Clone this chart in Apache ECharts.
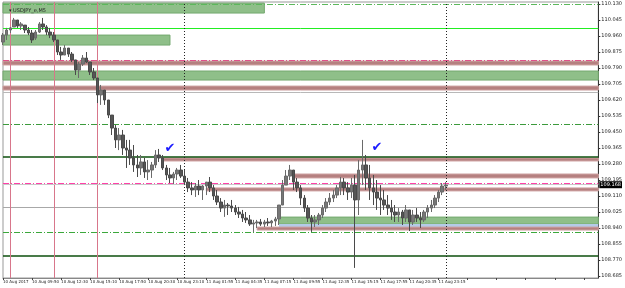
<!DOCTYPE html>
<html><head><meta charset="utf-8">
<script src="https://cdn.jsdelivr.net/npm/echarts@6/dist/echarts.min.js"></script>
<style>html,body{margin:0;padding:0;background:#fff}#c{width:625px;height:288px}</style>
</head><body><div id="c"></div>
<script>
const tickLabels = ['10 Aug 2017','10 Aug 09:50','10 Aug 12:30','10 Aug 15:10','10 Aug 17:50','10 Aug 20:30','10 Aug 23:10','11 Aug 01:55','11 Aug 04:35','11 Aug 07:15','11 Aug 09:55','11 Aug 12:35','11 Aug 15:15','11 Aug 17:55','11 Aug 20:35','11 Aug 23:15'];
const yTicks = [108.685,108.770,108.855,108.940,109.025,109.110,109.195,109.280,109.365,109.450,109.535,109.620,109.705,109.790,109.875,109.960,110.045,110.130];
const slotCount = 165;
const opens = [109.928,109.965,109.992,110.008,110.045,110.013,110.018,109.992,109.976,109.949,109.981,110.024,110.008,109.981,109.965,109.939,109.875,109.859,109.896,109.864,109.833,109.779,109.811,109.843,109.822,109.769,109.737,109.647,109.673,109.620,109.540,109.471,109.408,109.434,109.365,109.354,109.312,109.275,109.259,109.291,109.238,109.248,109.275,109.328,109.312,109.259,109.222,109.206,109.227,109.248,109.216,109.184,109.153,109.142,109.163,109.142,109.163,109.184,109.153,109.110,109.078,109.046,109.062,109.057,109.046,109.025,109.014,108.993,108.983,108.961,108.967,108.972,108.961,108.972,108.967,108.977,108.988,109.062,109.168,109.216,109.248,109.184,109.153,109.099,109.046,108.993,108.972,108.983,109.009,109.046,109.078,109.099,109.115,109.153,109.184,109.153,109.131,109.168,109.089,109.248,109.275,109.206,109.153,109.131,109.099,109.089,109.062,109.046,109.025,109.009,109.025,108.993,109.036,108.972,109.009,108.993,108.983,109.025,109.046,109.062,109.099,109.131,109.163];
const closes = [109.965,109.992,110.003,110.045,110.013,110.024,109.992,109.976,109.939,109.981,110.024,110.008,109.981,109.965,109.939,109.875,109.859,109.896,109.864,109.833,109.779,109.811,109.843,109.822,109.769,109.737,109.647,109.673,109.620,109.540,109.471,109.408,109.434,109.365,109.354,109.312,109.275,109.259,109.291,109.238,109.248,109.275,109.328,109.312,109.259,109.222,109.206,109.227,109.248,109.216,109.184,109.153,109.142,109.163,109.142,109.163,109.184,109.153,109.110,109.078,109.046,109.062,109.057,109.046,109.025,109.014,108.993,108.983,108.961,108.967,108.972,108.961,108.972,108.967,108.977,108.988,109.062,109.168,109.216,109.248,109.184,109.153,109.099,109.046,108.993,108.972,108.983,109.009,109.046,109.078,109.099,109.115,109.153,109.184,109.153,109.131,109.168,109.089,109.248,109.275,109.206,109.153,109.131,109.099,109.089,109.062,109.046,109.025,109.009,109.025,108.993,109.036,108.972,109.009,108.993,108.983,109.025,109.046,109.062,109.099,109.131,109.163,109.168];
const lows = [109.912,109.939,109.976,110.008,110.003,109.992,109.976,109.965,109.923,109.939,109.976,109.992,109.965,109.949,109.928,109.859,109.833,109.859,109.849,109.822,109.753,109.737,109.801,109.817,109.753,109.726,109.604,109.594,109.594,109.524,109.434,109.365,109.354,109.328,109.259,109.275,109.238,109.211,109.222,109.206,109.195,109.206,109.259,109.291,109.248,109.195,109.179,109.174,109.195,109.206,109.168,109.131,109.115,109.105,109.115,109.089,109.115,109.131,109.089,109.062,109.025,108.999,109.009,109.025,109.009,108.993,108.972,108.967,108.951,108.919,108.940,108.951,108.945,108.951,108.945,108.951,108.956,109.062,109.168,109.195,109.142,109.131,109.062,109.025,108.972,108.919,108.945,108.956,108.993,109.025,109.062,109.078,109.099,109.115,109.115,109.089,109.099,108.728,109.009,109.168,109.142,109.089,109.062,109.036,109.009,109.036,109.009,108.983,108.972,108.972,108.956,108.972,108.924,108.956,108.972,108.940,108.972,108.993,109.025,109.046,109.078,109.115,109.142];
const highs = [109.976,110.003,110.008,110.056,110.045,110.034,110.018,110.008,109.992,109.992,110.034,110.056,110.018,110.003,109.981,109.939,109.902,109.912,109.896,109.875,109.833,109.822,109.859,109.875,109.822,109.790,109.737,109.700,109.673,109.620,109.540,109.487,109.471,109.461,109.408,109.408,109.381,109.328,109.328,109.312,109.301,109.291,109.354,109.360,109.328,109.275,109.259,109.238,109.259,109.275,109.248,109.206,109.184,109.179,109.195,109.168,109.184,109.211,109.168,109.142,109.099,109.089,109.073,109.089,109.062,109.052,109.036,109.025,109.009,108.983,108.983,108.988,108.983,108.993,108.983,108.999,109.062,109.195,109.248,109.275,109.248,109.206,109.168,109.115,109.062,109.009,109.009,109.020,109.062,109.099,109.126,109.142,109.168,109.211,109.206,109.184,109.206,109.222,109.301,109.408,109.328,109.275,109.222,109.195,109.168,109.142,109.115,109.089,109.062,109.046,109.036,109.062,109.036,109.036,109.046,109.025,109.036,109.062,109.089,109.115,109.142,109.179,109.184];
const lastPrice = 109.168;

const categories = Array.from({length: slotCount}, (_, i) => String(i));
const bars = opens.map((o, i) => [o, closes[i], lows[i], highs[i]]);

const green = {color: '#8fbf89', borderColor: '#74a96f', borderWidth: 1};
const brown = {color: '#b58080', borderColor: '#cfa3a3', borderWidth: 1};
const blue = {color: '#b4cbe8', borderWidth: 0};
const last = slotCount - 1;
const zones = [
  [{xAxis: 0, yAxis: 110.135, itemStyle: green}, {xAxis: 72, yAxis: 110.082}],
  [{xAxis: 0, yAxis: 109.965, itemStyle: green}, {xAxis: 46, yAxis: 109.912}],
  [{yAxis: 109.827, itemStyle: brown}, {yAxis: 109.806}],
  [{yAxis: 109.774, itemStyle: green}, {yAxis: 109.726}],
  [{yAxis: 109.694, itemStyle: brown}, {yAxis: 109.673}],
  [{xAxis: 44, yAxis: 109.312, itemStyle: brown}, {xAxis: last, yAxis: 109.296}],
  [{xAxis: 80, yAxis: 109.227, itemStyle: brown}, {xAxis: last, yAxis: 109.206}],
  [{xAxis: 56, yAxis: 109.153, itemStyle: brown}, {xAxis: last, yAxis: 109.137}],
  [{xAxis: 76, yAxis: 108.998, itemStyle: green}, {xAxis: last, yAxis: 108.961}],
  [{xAxis: 76, yAxis: 108.961, itemStyle: blue}, {xAxis: last, yAxis: 108.945}],
  [{xAxis: 70, yAxis: 108.945, itemStyle: brown}, {xAxis: last, yAxis: 108.929}]
];
const dashDot = [6, 2, 1, 2];
const lines = [
  {yAxis: 110.134, lineStyle: {color: '#5cb85c', type: dashDot, width: 1}},
  {yAxis: 109.997, lineStyle: {color: '#22ee22', type: 'solid', width: 1}},
  {yAxis: 109.828, lineStyle: {color: '#e0508a', type: dashDot, width: 1}},
  {yAxis: 109.657, lineStyle: {color: '#b8b8b8', type: 'solid', width: 1}},
  {yAxis: 109.487, lineStyle: {color: '#3c9a3c', type: dashDot, width: 1}},
  {yAxis: 109.317, lineStyle: {color: '#0d4f0d', type: 'solid', width: 1.5}},
  {yAxis: 109.184, lineStyle: {color: '#ff40a8', type: dashDot, width: 1}},
  {yAxis: 109.052, lineStyle: {color: '#a8a8a8', type: 'solid', width: 1}},
  {yAxis: 108.919, lineStyle: {color: '#3ca83c', type: dashDot, width: 1}},
  {yAxis: 108.786, lineStyle: {color: '#0d4f0d', type: 'solid', width: 1.5}},
  {xAxis: 2, lineStyle: {color: '#d8768b', type: 'solid', width: 1}},
  {xAxis: 14, lineStyle: {color: '#d8768b', type: 'solid', width: 1}},
  {xAxis: 26, lineStyle: {color: '#d8768b', type: 'solid', width: 1}},
  {xAxis: 50, lineStyle: {color: '#222', type: [1, 2], width: 1}},
  {xAxis: 122, lineStyle: {color: '#222', type: [1, 2], width: 1}}
];

const chart = echarts.init(document.getElementById('c'));
chart.setOption({
  animation: false,
  backgroundColor: '#fff',
  textStyle: {fontFamily: 'DejaVu Sans'},
  title: {text: '▾ USDJPY_e,M5', left: 4, top: 3, textStyle: {fontSize: 5, fontWeight: 'normal', color: '#222'}},
  grid: {left: 3, right: 22, top: 2, bottom: 10, show: true, borderColor: '#999', borderWidth: 1},
  xAxis: {
    type: 'category', data: categories, boundaryGap: false,
    axisLine: {lineStyle: {color: '#888'}},
    axisTick: {show: true, interval: 7, length: 2, lineStyle: {color: '#444'}},
    axisLabel: {interval: 7, showMinLabel: true, hideOverlap: false, align: 'left', margin: 2, fontSize: 4, color: '#222',
      formatter: (v, idx) => (idx % 8 === 0 && tickLabels[idx / 8]) || ''},
    splitLine: {show: false}
  },
  yAxis: {
    type: 'value', position: 'right', min: 108.6744, max: 110.1407, scale: true,
    axisLine: {show: true, lineStyle: {color: '#333'}},
    axisTick: {show: true, length: 2, customValues: yTicks, lineStyle: {color: '#333'}},
    axisLabel: {customValues: yTicks, fontSize: 5, color: '#222', margin: 3, formatter: v => v.toFixed(3)},
    splitLine: {show: false}
  },
  series: [
    {
      type: 'line', data: [], silent: true, z: 1,
      markArea: {silent: true, data: zones}
    },
    {
      type: 'line', data: [], silent: true, z: 2,
      markLine: {silent: true, symbol: ['none', 'none'], label: {show: false}, data: lines}
    },
    {
      type: 'candlestick', data: bars, barWidth: 3, z: 5,
      itemStyle: {color: '#777', color0: '#555', borderColor: '#6a6a6a', borderColor0: '#4a4a4a', borderWidth: 1},
      markLine: {silent: true, symbol: ['none', 'none'], data: [
        {yAxis: lastPrice, lineStyle: {color: '#c8c8c8', type: 'solid', width: 1},
         label: {show: true, position: 'end', distance: 1, formatter: lastPrice.toFixed(3), backgroundColor: '#000', color: '#fff', fontSize: 5, padding: [1, 1]}}
      ]},
      markPoint: {silent: true, data: [
        {coord: [46, 109.360], symbol: 'rect', symbolSize: 0, label: {show: true, formatter: '✔', color: '#1a1aff', fontSize: 13, fontWeight: 'bold'}},
        {coord: [103, 109.365], symbol: 'rect', symbolSize: 0, label: {show: true, formatter: '✔', color: '#1a1aff', fontSize: 13, fontWeight: 'bold'}},
        {coord: [28, 109.636], symbol: 'rect', symbolSize: 2, itemStyle: {color: '#e00000'}, label: {show: false}}
      ]}
    }
  ]
});
</script></body></html>
